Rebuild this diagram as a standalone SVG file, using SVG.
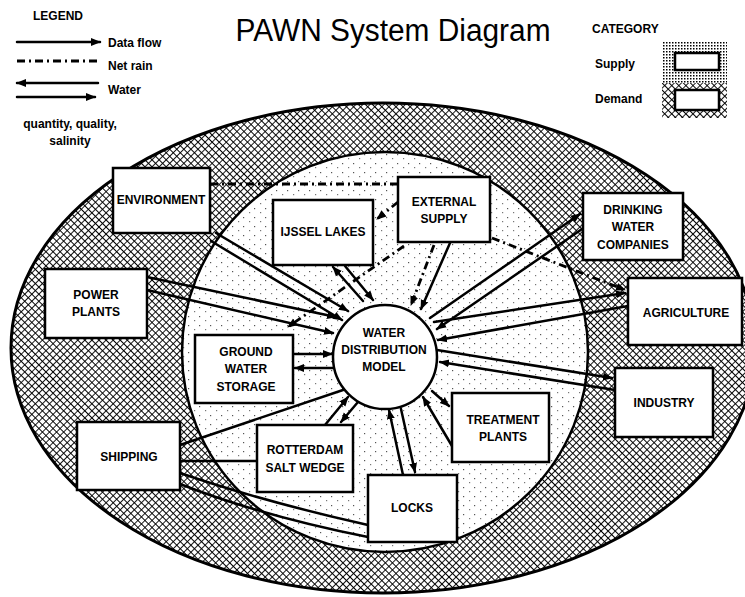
<svg xmlns="http://www.w3.org/2000/svg" width="745" height="597" viewBox="0 0 745 597">
<defs>
<pattern id="hatch" width="5" height="5" patternUnits="userSpaceOnUse" patternTransform="rotate(45)">
<rect width="5" height="5" fill="#fff"/>
<path d="M0,0H5M0,0V5" stroke="#000" stroke-width="1.8"/>
</pattern>
<pattern id="stip" width="11" height="9" patternUnits="userSpaceOnUse">
<rect width="11" height="9" fill="#fff"/>
<rect x="1" y="1" width="1.2" height="1.2" fill="#555"/>
<rect x="7" y="5" width="1.2" height="1.2" fill="#777"/>
</pattern>
<pattern id="fine" width="3" height="3" patternUnits="userSpaceOnUse">
<rect width="3" height="3" fill="#fff"/>
<rect width="1.5" height="1.5" fill="#000"/>
</pattern>
<marker id="ah" viewBox="0 0 10 10" refX="9" refY="5" markerWidth="10" markerHeight="10" markerUnits="userSpaceOnUse" orient="auto">
<path d="M0,1 L10,5 L0,9 Z" fill="#000"/>
</marker>
<style>
.box{fill:#fff;stroke:#000;stroke-width:2.5}
.lbl{font-family:"Liberation Sans",Arial,sans-serif;font-weight:bold;font-size:12px;text-anchor:middle;fill:#000}
.leg{font-family:"Liberation Sans",Arial,sans-serif;font-weight:bold;font-size:12px;fill:#000}
.flow{stroke:#000;stroke-width:2.5;fill:none;stroke-linecap:round}
.rain{stroke:#000;stroke-width:2.8;fill:none;stroke-dasharray:8 4 2 4}
</style>
</defs>
<rect width="745" height="597" fill="#fff"/>

<!-- title -->
<text x="393" y="41" font-family="'Liberation Sans',Arial,sans-serif" font-size="31" text-anchor="middle" textLength="315" lengthAdjust="spacingAndGlyphs">PAWN System Diagram</text>

<!-- legend -->
<g id="legend">
<text class="leg" x="33" y="20" font-size="11.5">LEGEND</text>
<line class="flow" x1="17" y1="42" x2="100" y2="42" marker-end="url(#ah)"/>
<text class="leg" x="108" y="47">Data flow</text>
<line class="rain" x1="17" y1="61" x2="97" y2="61"/>
<text class="leg" x="108" y="70">Net rain</text>
<line class="flow" x1="98" y1="83" x2="17" y2="83" marker-end="url(#ah)"/>
<line class="flow" x1="17" y1="97" x2="95" y2="97" marker-end="url(#ah)"/>
<text class="leg" x="108" y="94">Water</text>
<text class="leg" x="70" y="128" font-size="11" text-anchor="middle">quantity, quality,</text>
<text class="leg" x="70" y="145" font-size="11" text-anchor="middle">salinity</text>
</g>
<g id="category">
<text class="leg" x="592" y="33" font-size="11">CATEGORY</text>
<text class="leg" x="595" y="68">Supply</text>
<text class="leg" x="595" y="103">Demand</text>
<rect x="662" y="42" width="65" height="41" fill="url(#fine)"/>
<rect x="662" y="83" width="65" height="35" fill="url(#hatch)"/>
<rect x="675" y="53" width="44" height="17" class="box" stroke-width="2"/>
<rect x="675" y="90" width="44" height="20" class="box" stroke-width="2"/>
</g>

<!-- regions -->
<ellipse cx="383" cy="348" rx="372" ry="245" fill="url(#hatch)" stroke="#000" stroke-width="3"/>
<ellipse cx="385" cy="352" rx="203" ry="200" fill="url(#stip)" stroke="#000" stroke-width="2.5"/>

<!-- connectors -->
<g id="connectors">
<!-- net rain -->
<line class="rain" x1="210" y1="184" x2="398" y2="184"/>
<line class="rain" x1="398" y1="202" x2="377" y2="219" marker-end="url(#ah)"/>
<line class="rain" x1="404" y1="246" x2="288" y2="327" marker-end="url(#ah)"/>
<line class="rain" x1="434" y1="245" x2="411" y2="305" marker-end="url(#ah)"/>
<line class="rain" x1="492" y1="238" x2="625" y2="290" marker-end="url(#ah)"/>
<!-- water / data -->
<line class="flow" x1="450" y1="243" x2="421" y2="309" marker-end="url(#ah)"/>
<line class="flow" x1="363" y1="301" x2="333" y2="267" marker-end="url(#ah)"/>
<line class="flow" x1="345" y1="266" x2="373" y2="300" marker-end="url(#ah)"/>
<line class="flow" x1="216" y1="233" x2="348" y2="311" marker-end="url(#ah)"/>
<line class="flow" x1="211" y1="241" x2="342" y2="320" marker-end="url(#ah)"/>
<line class="flow" x1="147" y1="277" x2="336" y2="317" marker-end="url(#ah)"/>
<line class="flow" x1="147" y1="290" x2="333" y2="333" marker-end="url(#ah)"/>
<line class="flow" x1="293" y1="354" x2="332" y2="354" marker-end="url(#ah)"/>
<line class="flow" x1="333" y1="368" x2="295" y2="368" marker-end="url(#ah)"/>
<line class="flow" x1="180" y1="445" x2="343" y2="390"/>
<line class="flow" x1="180" y1="461" x2="257" y2="461"/>
<path class="flow" d="M180,473 Q265,502 368,525"/>
<path class="flow" d="M180,484 Q262,516 368,537"/>
<line class="flow" x1="325" y1="425" x2="348" y2="397" marker-end="url(#ah)"/>
<line class="flow" x1="358" y1="402" x2="341" y2="422" marker-end="url(#ah)"/>
<line class="flow" x1="403" y1="475" x2="389" y2="410" marker-end="url(#ah)"/>
<line class="flow" x1="401" y1="409" x2="415" y2="472" marker-end="url(#ah)"/>
<line class="flow" x1="452" y1="446" x2="423" y2="397" marker-end="url(#ah)"/>
<line class="flow" x1="432" y1="391" x2="449" y2="406" marker-end="url(#ah)"/>
<line class="flow" x1="437" y1="350" x2="612" y2="378" marker-end="url(#ah)"/>
<line class="flow" x1="615" y1="390" x2="440" y2="362" marker-end="url(#ah)"/>
<line class="flow" x1="434" y1="322" x2="625" y2="293" marker-end="url(#ah)"/>
<line class="flow" x1="628" y1="306" x2="438" y2="340" marker-end="url(#ah)"/>
<line class="flow" x1="430" y1="318" x2="580" y2="214" marker-end="url(#ah)"/>
<line class="flow" x1="585" y1="227" x2="437" y2="329" marker-end="url(#ah)"/>
</g>

<!-- nodes -->
<g id="environment"><rect class="box" x="113" y="168" width="97" height="65"/><text class="lbl" x="161" y="204">ENVIRONMENT</text></g>
<g id="ijssel-lakes"><rect class="box" x="273" y="200" width="100" height="65"/><text class="lbl" x="323" y="236">IJSSEL LAKES</text></g>
<g id="external-supply"><rect class="box" x="398" y="177" width="92" height="65"/><text class="lbl" x="444" y="206">EXTERNAL</text><text class="lbl" x="444" y="223">SUPPLY</text></g>
<g id="drinking-water"><rect class="box" x="583" y="193" width="100" height="67"/><text class="lbl" x="633" y="214">DRINKING</text><text class="lbl" x="633" y="231">WATER</text><text class="lbl" x="633" y="249">COMPANIES</text></g>
<g id="agriculture"><rect class="box" x="628" y="278" width="114" height="67"/><text class="lbl" x="686" y="317">AGRICULTURE</text></g>
<g id="industry"><rect class="box" x="615" y="368" width="98" height="69"/><text class="lbl" x="664" y="407">INDUSTRY</text></g>
<g id="treatment-plants"><rect class="box" x="452" y="393" width="97" height="69"/><text class="lbl" x="503" y="424">TREATMENT</text><text class="lbl" x="503" y="441">PLANTS</text></g>
<g id="locks"><rect class="box" x="368" y="475" width="89" height="67"/><text class="lbl" x="412" y="512">LOCKS</text></g>
<g id="rotterdam"><rect class="box" x="257" y="425" width="96" height="67"/><text class="lbl" x="305" y="454">ROTTERDAM</text><text class="lbl" x="305" y="472">SALT WEDGE</text></g>
<g id="shipping"><rect class="box" x="77" y="422" width="103" height="68"/><text class="lbl" x="129" y="461">SHIPPING</text></g>
<g id="ground-water"><rect class="box" x="195" y="335" width="98" height="68"/><text class="lbl" x="246" y="356">GROUND</text><text class="lbl" x="246" y="373">WATER</text><text class="lbl" x="246" y="391">STORAGE</text></g>
<g id="power-plants"><rect class="box" x="45" y="269" width="102" height="69"/><text class="lbl" x="96" y="299">POWER</text><text class="lbl" x="96" y="316">PLANTS</text></g>
<g id="wdm"><circle cx="385" cy="357" r="52" fill="#fff" stroke="#000" stroke-width="2.5"/><text class="lbl" x="384" y="337">WATER</text><text class="lbl" x="384" y="354">DISTRIBUTION</text><text class="lbl" x="384" y="371">MODEL</text></g>
</svg>
